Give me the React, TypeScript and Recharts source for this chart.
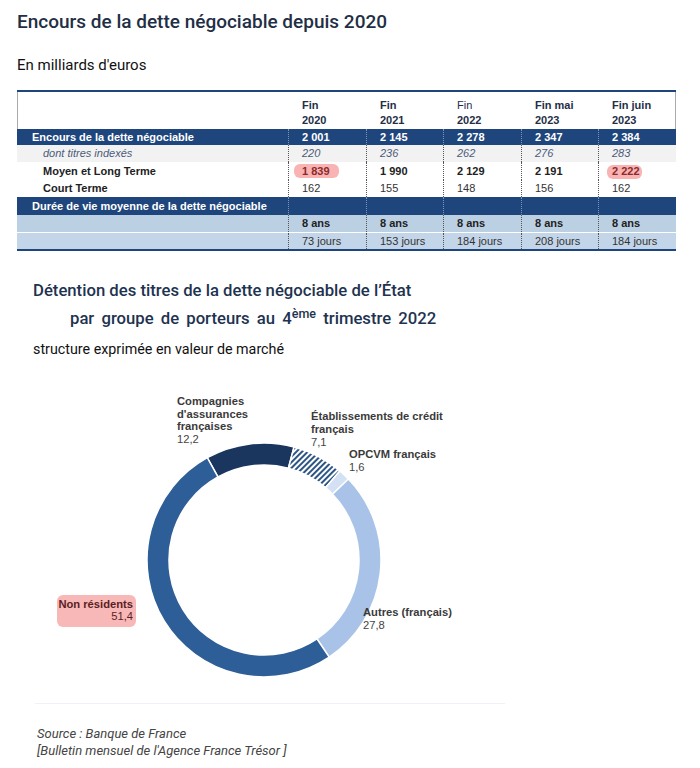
import { PieChart, Pie, Cell } from 'recharts'
import type { CSSProperties } from 'react'

// ---- table data ----
const PERIOD_TOP = ['Fin', 'Fin', 'Fin', 'Fin mai', 'Fin juin']
const PERIOD_YEAR = ['2020', '2021', '2022', '2023', '2023']
const ENCOURS = ['2 001', '2 145', '2 278', '2 347', '2 384']
const INDEXES = ['220', '236', '262', '276', '283']
const MLT = ['1 839', '1 990', '2 129', '2 191', '2 222']
const CT = ['162', '155', '148', '156', '162']
const DUREE_ANS = ['8 ans', '8 ans', '8 ans', '8 ans', '8 ans']
const DUREE_JOURS = ['73 jours', '153 jours', '184 jours', '208 jours', '184 jours']

// ---- donut data ----
const HOLDERS = [
  "Compagnies d'assurances françaises",
  'Établissements de crédit français',
  'OPCVM français',
  'Autres (français)',
  'Non résidents',
]
const SHARES = [12.2, 7.1, 1.6, 27.8, 51.4]
const HOLDER_LINES = [
  ['Compagnies', "d'assurances", 'françaises'],
  ['Établissements de crédit', 'français'],
  ['OPCVM français'],
  ['Autres (français)'],
  ['Non résidents'],
]

const COLORS = ['#1a365f', 'url(#hatch)', '#d4e1f4', '#a9c3e8', '#2e5e97']

// label anchors (page coords)
const LABEL_POS = [
  { x: 177, y: 405, anchor: 'start', lh: 12.7 },
  { x: 311, y: 420, anchor: 'start', lh: 13 },
  { x: 349, y: 458, anchor: 'start', lh: 13 },
  { x: 363, y: 616, anchor: 'start', lh: 12.5 },
  { x: 133, y: 608, anchor: 'end', lh: 11.5 },
]

const pieData = HOLDERS.map((name, i) => ({ name, value: SHARES[i] }))

const fmt = (v: number) => v.toFixed(1).replace('.', ',')

const TABLE_FONT = '"Liberation Sans", Arial, sans-serif'
const COL_X = [288, 366, 443, 521, 598]
const TABLE_L = 17
const TABLE_R = 676
const NAVY = '#1f467c'
const HILITE_TEXT = '#8a2b2b'

function renderLabel(props: any) {
  const i: number = props.index ?? HOLDERS.indexOf(props.name)
  const p = LABEL_POS[i]
  if (!p) return null
  const lines = HOLDER_LINES[i]
  const txt = i === 4 ? '#5a1f1f' : '#3a3a3a'
  return (
    <g key={`lab-${i}`} fontFamily={TABLE_FONT} fontSize={11.2}>
      {i === 4 && <rect x={57} y={595} width={79} height={32} rx={6} fill="#f9b8b8" />}
      {lines.map((l, k) => (
        <text key={k} x={p.x} y={p.y + k * p.lh} textAnchor={p.anchor as any} fill={txt} fontWeight="bold">
          {l}
        </text>
      ))}
      <text x={p.x} y={p.y + lines.length * p.lh} textAnchor={p.anchor as any} fill={i === 4 ? '#5a1f1f' : '#444'}>
        {fmt(SHARES[i])}
      </text>
    </g>
  )
}

type RowDef = {
  top: number; h: number; bg: string; values: string[]; label?: string; labelX?: number
  labelStyle: CSSProperties; style: CSSProperties; sepColor: string
}

const ROWS: RowDef[] = [
  { top: 129, h: 16, bg: NAVY, values: ENCOURS, label: 'Encours de la dette négociable', labelX: 32, labelStyle: { color: '#fff', fontWeight: 'bold' }, style: { color: '#fff', fontWeight: 'bold' }, sepColor: '#7b96bd' },
  { top: 145, h: 17, bg: '#f2f2f2', values: INDEXES, label: 'dont titres indexés', labelX: 43, labelStyle: { color: '#4b5b7a', fontStyle: 'italic' }, style: { color: '#4b5b7a', fontStyle: 'italic' }, sepColor: '#555' },
  { top: 162, h: 18, bg: '#fff', values: MLT, label: 'Moyen et Long Terme', labelX: 43, labelStyle: { color: '#222', fontWeight: 'bold' }, style: { color: '#222', fontWeight: 'bold' }, sepColor: '#555' },
  { top: 180, h: 17, bg: '#fff', values: CT, label: 'Court Terme', labelX: 43, labelStyle: { color: '#222', fontWeight: 'bold' }, style: { color: '#333' }, sepColor: '#555' },
  { top: 197, h: 18, bg: NAVY, values: ['', '', '', '', ''], label: 'Durée de vie moyenne de la dette négociable', labelX: 32, labelStyle: { color: '#fff', fontWeight: 'bold' }, style: {}, sepColor: '#7b96bd' },
  { top: 215, h: 17, bg: '#bcd0e4', values: DUREE_ANS, labelStyle: {}, style: { color: '#222', fontWeight: 'bold' }, sepColor: '#555' },
  { top: 233, h: 16, bg: '#c3d5e8', values: DUREE_JOURS, labelStyle: {}, style: { color: '#333' }, sepColor: '#555' },
]

function Table() {
  const abs: CSSProperties = { position: 'absolute', whiteSpace: 'nowrap' }
  return (
    <div style={{ ...abs, left: 0, top: 0, fontFamily: TABLE_FONT, fontSize: 11 }}>
      {/* borders */}
      <div style={{ ...abs, left: TABLE_L, top: 90, width: TABLE_R - TABLE_L, height: 2, background: NAVY }} />
      <div style={{ ...abs, left: TABLE_L, top: 92, width: 1, height: 37, background: '#aaa' }} />
      <div style={{ ...abs, left: TABLE_R - 1, top: 92, width: 1, height: 37, background: '#aaa' }} />
      {/* header */}
      {PERIOD_TOP.map((t, i) => (
        <div key={`h${i}`} style={{ ...abs, left: COL_X[i] + 14, top: 98, lineHeight: '15px', color: '#1f2f46' }}>
          <div style={{ fontWeight: i === 2 ? 'normal' : 'bold' }}>{t}</div>
          <div style={{ fontWeight: 'bold' }}>{PERIOD_YEAR[i]}</div>
        </div>
      ))}
      {ROWS.map((r, ri) => (
        <div key={`r${ri}`}>
          <div style={{ ...abs, left: TABLE_L, top: r.top, width: TABLE_R - TABLE_L, height: r.h, background: r.bg }} />
          {r.label && (
            <div style={{ ...abs, ...r.labelStyle, left: r.labelX, top: r.top, lineHeight: `${r.h}px` }}>{r.label}</div>
          )}
          {COL_X.map((x, ci) => (
            <div key={`s${ci}`} style={{ ...abs, left: x, top: r.top, height: r.h, borderLeft: `1px dotted ${r.sepColor}` }} />
          ))}
          {ri === 2 && (
            <>
              <div style={{ ...abs, left: 294, top: 164, width: 45, height: 14, borderRadius: 6, background: '#f9b3b3' }} />
              <div style={{ ...abs, left: 607, top: 165, width: 35, height: 14, borderRadius: 6, background: '#f9b3b3' }} />
            </>
          )}
          {r.values.map((v, ci) => {
            const hl = ri === 2 && (ci === 0 || ci === 4)
            return (
              <div key={`v${ci}`} style={{ ...abs, ...r.style, ...(hl ? { color: HILITE_TEXT } : {}), left: COL_X[ci] + 14, top: r.top, lineHeight: `${r.h}px` }}>{v}</div>
            )
          })}
        </div>
      ))}
      <div style={{ ...abs, left: TABLE_L, top: 232, width: TABLE_R - TABLE_L, height: 1, background: '#fff' }} />
      <div style={{ ...abs, left: TABLE_L, top: 249, width: TABLE_R - TABLE_L, height: 1.5, background: NAVY }} />
    </div>
  )
}

export default function App() {
  const abs: CSSProperties = { position: 'absolute', whiteSpace: 'nowrap' }
  return (
    <div style={{ position: 'absolute', left: 0, top: 0, width: 700, height: 768, background: '#fff', fontFamily: 'Roboto, sans-serif', overflow: 'hidden' }}>
      <div style={{ ...abs, left: 17, top: 10, fontSize: 19, fontWeight: 500, color: '#1f2f46' }}>
        Encours de la dette négociable depuis 2020
      </div>
      <div style={{ ...abs, left: 17, top: 56, fontSize: 15, color: '#111' }}>En milliards d'euros</div>

      <Table />

      <div style={{ ...abs, left: 33, top: 281, fontSize: 16.7, fontWeight: 500, color: '#1e3350' }}>
        Détention des titres de la dette négociable de l’État
      </div>
      <div style={{ ...abs, left: 70, top: 309, fontSize: 16.7, fontWeight: 500, color: '#1e3350', wordSpacing: 3 }}>
        par groupe de porteurs au 4<sup style={{ fontSize: 12.5, verticalAlign: 6, lineHeight: 0, wordSpacing: 0 }}>ème</sup> trimestre 2022
      </div>
      <div style={{ ...abs, left: 33, top: 341, fontSize: 14.3, color: '#111' }}>structure exprimée en valeur de marché</div>

      <div style={{ position: 'absolute', left: 0, top: 0 }}>
        <PieChart width={700} height={768}>
          <defs>
            <pattern id="hatch" width={4} height={4} patternUnits="userSpaceOnUse" patternTransform="rotate(45)">
              <rect width={4} height={4} fill="#ffffff" />
              <rect width={2} height={4} fill="#2d5586" />
            </pattern>
          </defs>
          <Pie
            data={pieData}
            dataKey="value"
            nameKey="name"
            cx={259}
            cy={555}
            innerRadius={95}
            outerRadius={117}
            startAngle={119}
            endAngle={-241}
            stroke="#ffffff"
            strokeWidth={1.5}
            label={renderLabel}
            labelLine={false}
            isAnimationActive={false}
          >
            {pieData.map((d, i) => (
              <Cell key={d.name} fill={COLORS[i]} />
            ))}
          </Pie>
        </PieChart>
      </div>

      <div style={{ ...abs, left: 35, top: 703, width: 470, height: 1, background: '#eef1f5' }} />
      <div style={{ ...abs, left: 37, top: 725, fontSize: 13, fontStyle: 'italic', color: '#444', lineHeight: '17px' }}>
        <div>Source : Banque de France</div>
        <div>[Bulletin mensuel de l'Agence France Trésor ]</div>
      </div>
    </div>
  )
}
